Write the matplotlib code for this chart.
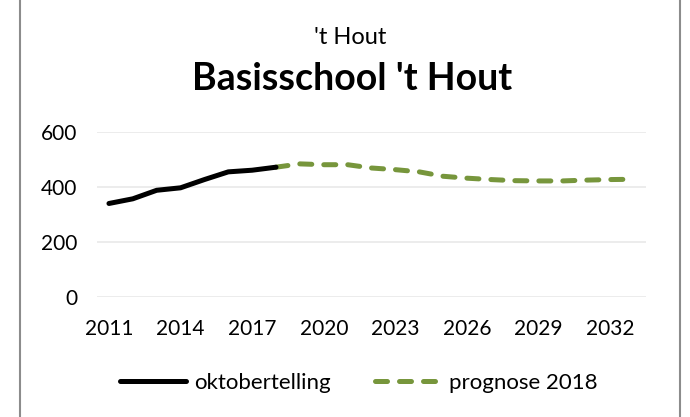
import matplotlib
matplotlib.use("Agg")
from matplotlib import pyplot as plt
from matplotlib.lines import Line2D

plt.rcParams['font.family'] = ['Lato', 'DejaVu Sans']

# oktobertelling (counted) and prognose 2018 (forecast)
count_years = list(range(2011, 2019))
count_values = [340, 357, 388, 397, 427, 455, 461, 472]

forecast_years = list(range(2018, 2034))
forecast_values = [472, 484, 481, 481, 469, 463, 455, 439, 432, 427,
                   423, 422, 422, 425, 427, 428]

tick_years = list(range(2011, 2033, 3))
y_ticks = [0, 200, 400, 600]

fig = plt.figure(figsize=(6.9, 4.17), dpi=100)
ax = fig.add_axes([0.1406, 0.2878, 0.7956, 0.3957])

green = '#77963c'
ax.plot(forecast_years, forecast_values, color=green, lw=3.6,
        dashes=(2.4, 2.4), dash_capstyle='round', solid_capstyle='round',
        label='prognose 2018', zorder=3)
ax.plot(count_years, count_values, color='black', lw=3.6,
        solid_capstyle='round', label='oktobertelling', zorder=4)

ax.set_xlim(2010.5, 2033.5)
ax.set_ylim(0, 600)
ax.set_xticks(tick_years)
ax.set_xticklabels([str(y) for y in tick_years])
ax.set_yticks(y_ticks)
ax.tick_params(axis='both', length=0, labelsize=15, colors='black')
ax.tick_params(axis='x', pad=16)
ax.tick_params(axis='y', pad=14)
for s in ax.spines.values():
    s.set_visible(False)
ax.grid(axis='y', color='#e9e9e9', lw=1.2)
ax.set_axisbelow(True)

fig.text(0.508, 0.91, "'t Hout", ha='center', va='center', fontsize=17)
fig.text(0.51, 0.81, "Basisschool 't Hout", ha='center', va='center',
         fontsize=27, fontweight='bold')

handles, labels = ax.get_legend_handles_labels()
order = [1, 0]
fig.legend([handles[i] for i in order], [labels[i] for i in order],
           loc='center', bbox_to_anchor=(0.52, 0.082), ncol=2, frameon=False,
           fontsize=16, handlelength=3.0, columnspacing=2.0, handletextpad=0.35)

# chart border (left and right edges visible)
for xf in (20 / 690, 680 / 690):
    fig.add_artist(Line2D([xf, xf], [0, 1], color='#8c8c8c', lw=1.5,
                          transform=fig.transFigure))

fig.savefig('out.png', dpi=100)
